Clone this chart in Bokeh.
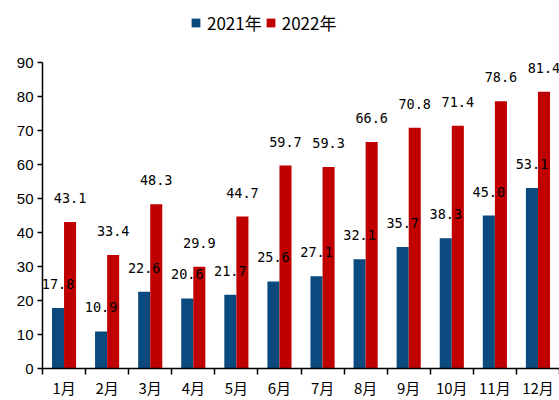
import numpy as np
from bokeh.plotting import figure
from bokeh.layouts import column
from bokeh.models import Range1d, FixedTicker, Legend, LegendItem, ColumnDataSource
from bokeh.core.properties import value
from bokeh.embed import file_html
from bokeh.resources import INLINE

months = ["1月", "2月", "3月", "4月", "5月", "6月", "7月", "8月", "9月", "10月", "11月", "12月"]
v2021 = [17.8, 10.9, 22.6, 20.6, 21.7, 25.6, 27.1, 32.1, 35.7, 38.3, 45.0, 53.1]
v2022 = [43.1, 33.4, 48.3, 29.9, 44.7, 59.7, 59.3, 66.6, 70.8, 71.4, 78.6, 81.4]
series_names = ["2021年", "2022年"]
y_ticks = [0, 10, 20, 30, 40, 50, 60, 70, 80, 90]

BLUE = "#0B4A7E"
RED = "#C00000"
BW = 0.28

n = len(months)
centers = np.arange(n) + 0.5

# ---- legend strip (its bars lie outside its visible range; only the legend shows) ----
lf = figure(width=559, height=44, output_backend="svg", toolbar_location=None,
            x_range=Range1d(-200, -199), y_range=Range1d(0, 1),
            min_border=0, min_border_left=0, min_border_right=0, min_border_top=0, min_border_bottom=0)
lf.axis.visible = False
lf.grid.visible = False
lf.outline_line_color = None
lr1 = lf.vbar(x=centers, top=v2021, width=BW, fill_color=BLUE, line_color=None)
lr2 = lf.vbar(x=centers, top=v2022, width=BW, fill_color=RED, line_color=None)
legend = Legend(items=[LegendItem(label=series_names[0], renderers=[lr1]),
                       LegendItem(label=series_names[1], renderers=[lr2])],
                orientation="horizontal", location=(148, 9))
legend.border_line_color = None
legend.background_fill_alpha = 0
legend.glyph_width = 11
legend.glyph_height = 11
legend.label_standoff = 6
legend.spacing = 3
legend.padding = 0
legend.margin = 0
legend.label_text_font = "Noto Sans CJK SC"
legend.label_text_font_size = "17px"
legend.label_text_color = "black"
lf.add_layout(legend, "center")

# ---- main chart ----
p = figure(width=559, height=356, output_backend="svg", toolbar_location=None,
           x_range=Range1d(0, n), y_range=Range1d(0, 90),
           min_border_left=42, min_border_right=0, min_border_top=18, min_border_bottom=31)
p.outline_line_color = None
p.xgrid.visible = False
p.ygrid.visible = False
p.background_fill_color = "white"

src1 = ColumnDataSource(dict(x=centers - BW / 2, top=v2021, lab=[f"{v:.1f}" for v in v2021]))
src2 = ColumnDataSource(dict(x=centers + BW / 2, top=v2022, lab=[f"{v:.1f}" for v in v2022]))

r1 = p.vbar(x="x", top="top", width=BW, source=src1, fill_color=BLUE, line_color=None)
r2 = p.vbar(x="x", top="top", width=BW, source=src2, fill_color=RED, line_color=None)

for s in (src1, src2):
    p.text(x="x", y="top", text="lab", source=s, text_align="center", text_baseline="middle",
           y_offset=-24, text_font=value("DejaVu Sans Mono"), text_font_size="13.5px",
           text_color="black")

# x axis
xa = p.xaxis[0]
xa.ticker = FixedTicker(ticks=list(centers), minor_ticks=list(range(n + 1)))
xa.major_label_overrides = {float(c): m for c, m in zip(centers, months)}
xa.major_tick_line_color = None
xa.major_tick_out = 0
xa.major_tick_in = 0
xa.minor_tick_line_color = "black"
xa.minor_tick_line_width = 1.5
xa.minor_tick_out = 6
xa.minor_tick_in = 0
xa.axis_line_color = "black"
xa.axis_line_width = 1.5
xa.major_label_standoff = 2
xa.major_label_text_font = "Noto Sans CJK SC"
xa.major_label_text_font_size = "15px"
xa.major_label_text_color = "black"

# y axis
ya = p.yaxis[0]
ya.ticker = FixedTicker(ticks=y_ticks)
ya.minor_tick_line_color = None
ya.major_tick_out = 5
ya.major_tick_in = 0
ya.major_tick_line_width = 1.5
ya.axis_line_width = 1.5
ya.axis_line_color = "black"
ya.major_label_standoff = 4
ya.major_label_text_font = "Liberation Sans"
ya.major_label_text_font_size = "15px"
ya.major_label_text_color = "black"

layout = column(lf, p, spacing=0)
open("out.html", "w").write(file_html(layout, INLINE))
